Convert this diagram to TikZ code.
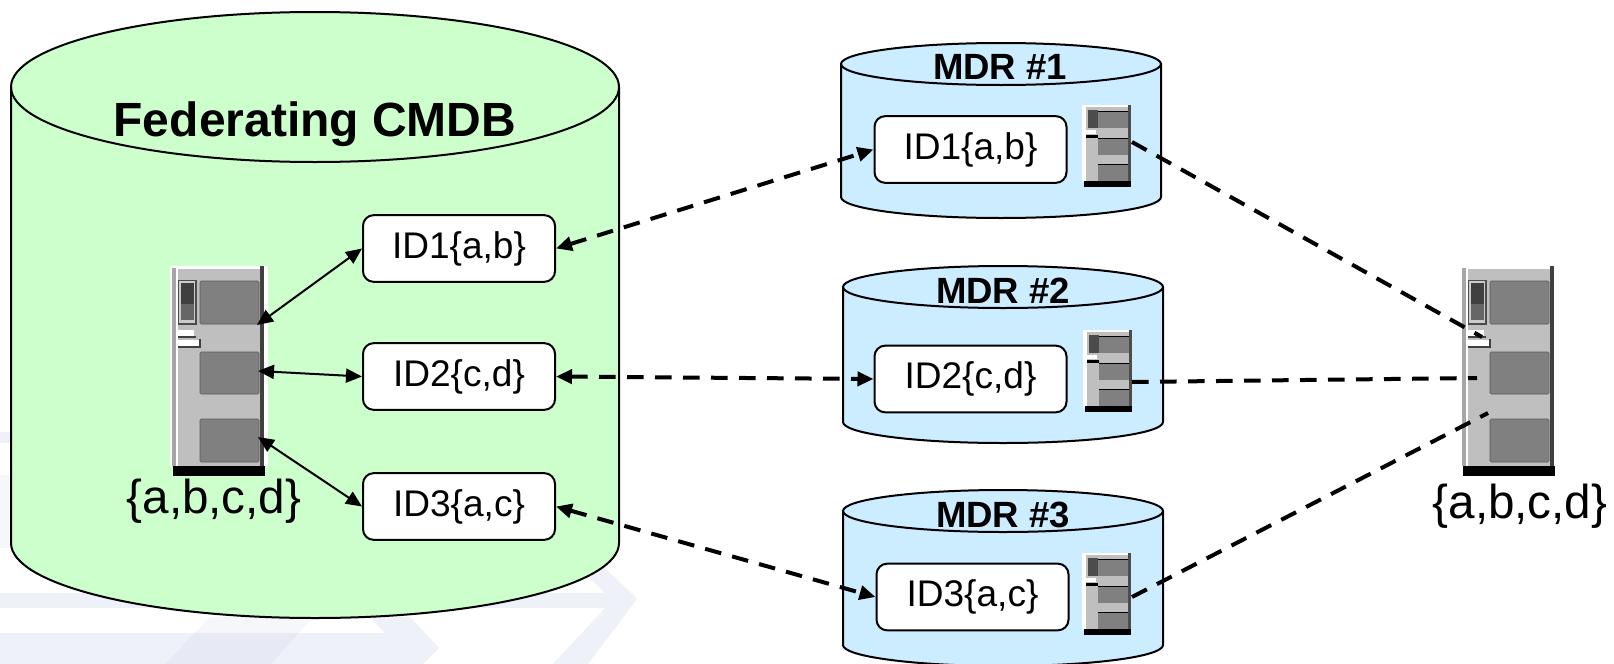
\documentclass[tikz,border=0pt]{standalone}
\usepackage{fontspec}
\setmainfont{Liberation Sans}
\usetikzlibrary{arrows.meta}

\definecolor{wmark}{HTML}{1E3C96}
\definecolor{cmdbgreen}{HTML}{CCFFCC}
\definecolor{mdrblue}{HTML}{CCECFF}

% left, right, top y, bottom y, x radius, y radius, colour
\newcommand{\drum}[7]{
  \draw[rim,fill=#7] (#1,#3) -- (#1,#4) arc [start angle=180,end angle=360,x radius=#5,y radius=#6]
        -- (#2,#3) arc [start angle=0,end angle=180,x radius=#5,y radius=#6] -- cycle;
  \draw[rim] (#1,#3) arc [start angle=180,end angle=360,x radius=#5,y radius=#6];
}

\tikzset{
  rim/.style={line width=1.5pt},
  idbox/.style={draw,line width=1.5pt,fill=white,rounded corners=8pt,minimum width=144pt,
      minimum height=50pt,inner sep=0pt,font=\fontsize{27.8}{30}\selectfont},
  title/.style={inner sep=0pt,font=\fontsize{27.4}{30}\selectfont\bfseries},
  setlabel/.style={inner sep=0pt,font=\fontsize{35.7}{38}\selectfont},
  link/.style={<->,line width=1.5pt},
  feed/.style={line width=3pt,dash pattern=on 12.5pt off 8.5pt},
  bigserver/.pic={
    \fill[white] (0,0) rectangle (98,200);
    \fill[gray!70] (2,2) rectangle (6,200);
    \fill[black!25] (8,3) rectangle (90,200);
    \fill[black!75] (90,0) rectangle (94,200);
    \fill[black] (3,200) rectangle (95,210);
    \foreach \t/\b in {15/58,86/128,153/196}
      \draw[black!65,fill=black!50,line width=.4pt,rounded corners=1pt] (30,\t) rectangle (89,\b);
    \fill[black!70] (8,14) rectangle (27,59);
    \fill[black!20] (9,15) rectangle (25,57);
    \fill[black!75] (11,17) rectangle (24,38);
    \fill[black!60] (11,38) rectangle (24,54);
    \fill[black!75] (8,70) rectangle (26,72);
    \fill[white] (8,64) rectangle (24,70);
    \fill[black!75] (8,80) rectangle (31,82);
    \fill[black!75] (29,73) rectangle (31,82);
    \fill[white] (8,74) rectangle (29,80);
  },
  smallserver/.pic={
    \fill[white] (0,0) rectangle (49,77);
    \fill[black!25] (4,2) rectangle (46,77);
    \fill[black!70] (46,0) rectangle (49,77);
    \fill[black!50] (16,6) rectangle (46,23);
    \fill[black!50] (16,33) rectangle (46,50);
    \fill[black!50] (16,59) rectangle (46,77);
    \foreach \t in {6,33,59}
      \draw[line width=.7pt] (16,\t) -- (46,\t);
    \fill[black!70] (6,5) rectangle (16,23);
    \fill[white] (4,25) rectangle (14,29);
    \fill[black] (4,30) rectangle (16,33);
    \fill[black] (2,76) rectangle (49,82);
  }
}

\begin{document}
\begin{tikzpicture}[>={Triangle[length=12pt,width=10.5pt]},x=.75pt,y=-.75pt]
  \useasboundingbox (0,0) rectangle (1614,664);

  % watermark
  \fill[wmark,fill opacity=.07] (0,432) rectangle (20,443);
  \fill[wmark,fill opacity=.04] (0,475) rectangle (20,548);
  \fill[wmark,fill opacity=.07] (0,593) -- (605,593) -- (572,560) -- (590,553) -- (637,599)
        -- (588,664) -- (553,664) -- (605,608) -- (0,608) -- cycle;
  \fill[wmark,fill opacity=.07] (0,633) -- (385,633) -- (370,617) -- (410,617) -- (439,648)
        -- (423,664) -- (0,664) -- cycle;
  \fill[wmark,fill opacity=.04] (210,617) -- (165,664) -- (271,664) -- (313,617) -- cycle;

  \drum{11}{619}{87}{543}{228pt}{56.25pt}{cmdbgreen}
  \drum{841}{1161}{64}{197}{120pt}{15.75pt}{mdrblue}
  \drum{843}{1163}{287}{422}{120pt}{15.75pt}{mdrblue}
  \drum{843}{1163}{511}{645}{120pt}{15.75pt}{mdrblue}

  \node[title,font=\fontsize{36}{38}\selectfont\bfseries] (cmdb) at (315,124) {Federating CMDB};
  \node[title] (mdr1) at (1000,67) {MDR \#1};
  \node[title] (mdr2) at (1003,291) {MDR \#2};
  \node[title] (mdr3) at (1003,515) {MDR \#3};

  \pic (fedsrv) at (170,266) {bigserver};
  \pic (rightsrv) at (1460,266) {bigserver};
  \pic (srv1) at (1082,105) {smallserver};
  \pic (srv2) at (1083,330) {smallserver};
  \pic (srv3) at (1082,553) {smallserver};

  \node[setlabel] (fedset) at (214,501) {\{a,b,c,d\}};
  \node[setlabel] (rightset) at (1520,506) {\{a,b,c,d\}};

  \node[idbox] (fed1) at (459,248.5) {ID1\{a,b\}};
  \node[idbox] (fed2) at (459,376.5) {ID2\{c,d\}};
  \node[idbox] (fed3) at (459,506.5) {ID3\{a,c\}};
  \node[idbox] (id1) at (970.5,149.5) {ID1\{a,b\}};
  \node[idbox] (id2) at (970.5,379) {ID2\{c,d\}};
  \node[idbox] (id3) at (972.5,597) {ID3\{a,c\}};

  \coordinate (fedport1) at (257,325);
  \coordinate (fedport2) at (258,371);
  \coordinate (fedport3) at (258,437);
  \coordinate (srvport1) at (1132,142);
  \coordinate (srvport2) at (1132,382);
  \coordinate (srvport3) at (1132,597);
  \coordinate (rightport1) at (1482,337);
  \coordinate (rightport2) at (1477,378);
  \coordinate (rightport3) at (1488,413);

  \draw[link] (fedport1) -- (fed1.west);
  \draw[link] (fedport2) -- (fed2.west);
  \draw[link] (fedport3) -- (fed3.west);

  \draw[feed,<->] (fed1.east) -- (id1.west);
  \draw[feed,<->] (fed2.east) -- (id2.west);
  \draw[feed,<->] (fed3.east) -- (id3.west);

  \draw[feed] (srvport1) -- (rightport1);
  \draw[feed] (srvport2) -- (rightport2);
  \draw[feed] (srvport3) -- (rightport3);

\end{tikzpicture}
\end{document}
